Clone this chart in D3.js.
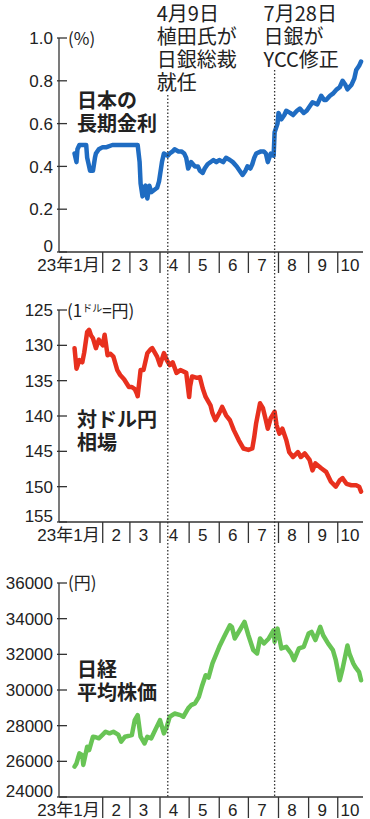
<!DOCTYPE html>
<html>
<head>
<meta charset="utf-8">
<script src="https://cdn.jsdelivr.net/npm/d3@7"></script>
<style>
  body { margin: 0; background: #fff; }
  svg { display: block; }
  .num { font-family: "Liberation Sans", Arial, "Noto Sans CJK JP", sans-serif; font-size: 17px; fill: #222; }
  .jp { font-family: "Noto Sans CJK JP", sans-serif; fill: #222; }
</style>
</head>
<body>
<svg id="chart"></svg>
<script>
// 長期金利 (%)
const jgbSeries = [
  ["01-03",0.46],["01-04",0.44],["01-05",0.42],["01-06",0.48],["01-08",0.50],["01-13",0.50],["01-15",0.50],
  ["01-16",0.44],["01-17",0.42],["01-19",0.38],["01-22",0.38],["01-24",0.44],["01-25",0.46],["01-28",0.48],
  ["02-01",0.49],["02-05",0.49],["02-11",0.50],["02-20",0.50],["03-01",0.50],["03-09",0.50],["03-11",0.42],
  ["03-12",0.32],["03-14",0.26],["03-15",0.30],["03-17",0.31],["03-18",0.27],["03-19",0.25],["03-21",0.31],
  ["03-23",0.28],["03-26",0.29],["03-29",0.30],["03-31",0.33],["04-03",0.42],["04-05",0.46],["04-09",0.45],
  ["04-11",0.46],["04-14",0.47],["04-16",0.48],["04-20",0.47],["04-23",0.47],["04-26",0.46],["04-28",0.44],
  ["04-30",0.39],["05-03",0.42],["05-07",0.40],["05-10",0.40],["05-12",0.38],["05-15",0.37],["05-17",0.39],
  ["05-20",0.41],["05-26",0.43],["05-29",0.42],["06-01",0.43],["06-05",0.42],["06-08",0.44],["06-12",0.43],
  ["06-15",0.42],["06-19",0.40],["06-22",0.38],["06-25",0.36],["06-28",0.38],["06-30",0.40],["07-03",0.39],
  ["07-05",0.41],["07-07",0.44],["07-09",0.46],["07-14",0.47],["07-17",0.47],["07-19",0.46],["07-21",0.42],
  ["07-24",0.46],["07-27",0.45],["07-28",0.56],["07-31",0.60],["08-01",0.65],["08-04",0.62],["08-07",0.64],
  ["08-09",0.66],["08-13",0.65],["08-16",0.64],["08-20",0.66],["08-23",0.67],["08-27",0.65],["08-30",0.66],
  ["09-02",0.68],["09-05",0.70],["09-10",0.69],["09-14",0.73],["09-17",0.71],["09-19",0.71],["09-23",0.73],
  ["09-26",0.74],["09-30",0.76],["10-03",0.77],["10-06",0.80],["10-09",0.78],["10-11",0.76],["10-15",0.78],
  ["10-18",0.81],["10-20",0.85],["10-23",0.87],["10-25",0.89]
];

// 対ドル円相場 (1ドル=円)
const usdjpySeries = [
  ["01-03",130.4],["01-05",133.3],["01-08",132.1],["01-11",132.4],["01-13",131.0],["01-16",128.1],["01-18",127.8],
  ["01-20",128.6],["01-22",129.0],["01-25",130.4],["01-28",129.2],["02-01",130.0],["02-03",128.5],["02-06",131.4],
  ["02-09",131.2],["02-12",131.6],["02-16",133.5],["02-19",134.2],["02-23",134.8],["02-28",135.9],["03-03",135.9],
  ["03-06",136.2],["03-08",136.8],["03-09",137.2],["03-12",133.5],["03-15",133.5],["03-19",131.1],["03-22",130.6],
  ["03-24",130.4],["03-29",131.6],["04-01",132.8],["04-05",131.1],["04-08",132.1],["04-11",132.8],["04-14",132.4],
  ["04-18",133.9],["04-22",133.5],["04-28",133.9],["05-01",137.3],["05-02",135.8],["05-04",134.4],["05-09",134.6],
  ["05-12",134.5],["05-15",136.1],["05-18",137.3],["05-23",138.5],["05-25",139.6],["05-28",140.6],["06-01",139.6],
  ["06-04",138.7],["06-08",139.9],["06-12",140.6],["06-16",142.0],["06-21",143.4],["06-26",144.6],["07-01",144.8],
  ["07-05",144.6],["07-07",143.0],["07-09",141.0],["07-13",138.2],["07-16",138.9],["07-19",140.6],["07-21",141.8],
  ["07-24",140.3],["07-28",139.4],["07-30",141.3],["08-02",142.5],["08-05",141.8],["08-09",143.4],["08-12",145.1],
  ["08-16",145.8],["08-21",145.1],["08-24",145.8],["08-28",145.3],["09-02",146.2],["09-05",147.7],["09-08",146.7],
  ["09-14",147.4],["09-19",147.9],["09-24",149.3],["09-29",150.0],["10-03",149.1],["10-06",148.8],["10-10",149.6],
  ["10-15",149.8],["10-20",149.8],["10-23",150.0],["10-25",150.7]
];

// 日経平均株価 (円)
const nikkeiSeries = [
  ["01-03",25700],["01-05",25880],["01-08",26450],["01-11",26350],["01-12",25800],["01-16",26820],["01-18",26630],
  ["01-22",27380],["01-25",27350],["01-28",27290],["02-01",27500],["02-04",27660],["02-08",27570],["02-12",27660],
  ["02-17",27500],["02-20",27100],["02-24",27380],["03-03",27470],["03-06",28310],["03-09",28590],["03-12",27380],
  ["03-16",27000],["03-19",27380],["03-23",27290],["03-27",27750],["04-01",28310],["04-05",27570],["04-08",27940],
  ["04-11",28500],["04-16",28680],["04-22",28590],["04-25",28500],["04-30",28970],["05-03",29150],["05-07",29250],
  ["05-11",29620],["05-14",30180],["05-18",30830],["05-21",30700],["05-25",31490],["06-01",32420],["06-06",32980],
  ["06-12",33630],["06-14",33540],["06-17",32890],["06-22",33350],["06-27",33820],["07-01",33070],["07-06",32240],
  ["07-10",32050],["07-13",32890],["07-17",32610],["07-22",32890],["07-27",33350],["07-28",32700],["07-31",33440],
  ["08-04",32330],["08-09",32420],["08-14",32050],["08-17",31670],["08-22",32330],["08-27",32420],["09-01",33170],
  ["09-04",33260],["09-08",32800],["09-13",33540],["09-16",33070],["09-21",32610],["09-26",32240],["09-29",31670],
  ["10-03",30550],["10-06",31200],["10-11",32500],["10-13",32050],["10-17",31490],["10-19",31300],["10-23",31000],
  ["10-25",30550]
];

const jgbTicks = [0, 0.2, 0.4, 0.6, 0.8, 1.0];
const usdjpyTicks = [125, 130, 135, 140, 145, 150, 155];
const nikkeiTicks = [24000, 26000, 28000, 30000, 32000, 34000, 36000];

const monthLabels = ["23年1月", "2", "3", "4", "5", "6", "7", "8", "9", "10"];
const eventDates = ["2023-04-09", "2023-07-28"];
const eventNotes = [["4月9日", "植田氏が", "日銀総裁", "就任"], ["7月28日", "日銀が", "YCC修正"]];

const W = 370, H = 819;
const parse = d3.utcParse("%Y-%m-%d");
const svg = d3.select("#chart").attr("width", W).attr("height", H);

const x = d3.scaleUtc()
  .domain([Date.UTC(2022, 11, 18), Date.UTC(2023, 9, 27)])
  .range([59, 363]);

const panels = [
  { data: jgbSeries, ticks: jgbTicks, domain: [0, 1], range: [252, 38], color: "#1f6cc2",
    fmt: d => d === 0 ? "0" : d.toFixed(1), title: ["日本の", "長期金利"], titleY: 108 },
  { data: usdjpySeries, ticks: usdjpyTicks, domain: [155, 125], range: [522, 310], color: "#e8301e",
    fmt: d => d, title: ["対ドル円", "相場"], titleY: 427 },
  { data: nikkeiSeries, ticks: nikkeiTicks, domain: [24000, 36000], range: [797, 583], color: "#68c455",
    fmt: d => d, title: ["日経", "平均株価"], titleY: 677 }
];

const axisX = 59;
const monthStarts = d3.range(1, 10).map(m => new Date(Date.UTC(2023, m, 1)));

panels.forEach((p, pi) => {
  const y = d3.scaleLinear().domain(p.domain).range(p.range);
  const base = p.range[0], top = p.range[1];
  const g = svg.append("g");

  // y axis
  g.append("line").attr("x1", axisX).attr("x2", axisX).attr("y1", top).attr("y2", base)
    .attr("stroke", "#333").attr("stroke-width", 1.3);
  g.selectAll(".tk").data(p.ticks).enter().append("line")
    .attr("x1", axisX - 2).attr("x2", axisX + 8)
    .attr("y1", d => y(d)).attr("y2", d => y(d))
    .attr("stroke", "#333").attr("stroke-width", 1.3);
  g.selectAll(".tl").data(p.ticks).enter().append("text")
    .attr("class", "num")
    .attr("x", 53)
    .attr("y", d => y(d) - (Math.abs(y(d) - base) < 1 ? 6 : 0))
    .attr("dy", "0.36em")
    .attr("text-anchor", "end")
    .text(p.fmt);

  // x axis
  g.append("line").attr("x1", axisX).attr("x2", 363).attr("y1", base).attr("y2", base)
    .attr("stroke", "#333").attr("stroke-width", 1.3);
  g.selectAll(".ms").data(monthStarts).enter().append("line")
    .attr("x1", d => x(d)).attr("x2", d => x(d))
    .attr("y1", base).attr("y2", base + 21)
    .attr("stroke", "#333").attr("stroke-width", 1.3);
  g.selectAll(".ml").data(monthLabels).enter().append("text")
    .attr("class", "num")
    .attr("x", (d, i) => i === 0 ? x(monthStarts[0]) - 3 : Math.min(x(new Date(Date.UTC(2023, i, 15))), 350))
    .attr("y", base + 19)
    .attr("text-anchor", (d, i) => i === 0 ? "end" : "middle")
    .text(d => d);

  // series line
  const pts = p.data.map(d => [parse("2023-" + d[0]), d[1]]);
  g.append("path")
    .datum(pts)
    .attr("fill", "none")
    .attr("stroke", p.color)
    .attr("stroke-width", 4.5)
    .attr("stroke-linejoin", "round")
    .attr("stroke-linecap", "round")
    .attr("d", d3.line().x(d => x(d[0])).y(d => y(d[1])));

  // title
  g.selectAll(".tt").data(p.title).enter().append("text")
    .attr("class", "jp")
    .attr("x", 77)
    .attr("y", (d, i) => p.titleY + i * 23)
    .style("font-size", "20px")
    .style("font-weight", 700)
    .text(d => d);
});

// unit labels
svg.append("text").attr("class", "jp").attr("x", 68).attr("y", 45).style("font-size", "17px").text("(%)");
const u2 = svg.append("text").attr("class", "jp").attr("x", 67).attr("y", 317).style("font-size", "17px");
u2.append("tspan").text("(1");
u2.append("tspan").attr("dy", -5).style("font-size", "10px").text("ドル");
u2.append("tspan").attr("dy", 5).text("=円)");
svg.append("text").attr("class", "jp").attr("x", 68).attr("y", 589).style("font-size", "17px").text("(円)");

// event lines and notes
const lineTops = [95, 70];
eventDates.forEach((d, i) => {
  const ex = x(parse(d));
  svg.append("line")
    .attr("x1", ex).attr("x2", ex).attr("y1", lineTops[i]).attr("y2", 797)
    .attr("stroke", "#333").attr("stroke-width", 1.3).attr("stroke-dasharray", "1.5,2");
  svg.selectAll(".en" + i).data(eventNotes[i]).enter().append("text")
    .attr("class", "jp")
    .attr("x", ex - 11)
    .attr("y", (t, j) => 21 + j * 23)
    .style("font-size", "20px")
    .text(t => t);
});
</script>
</body>
</html>
